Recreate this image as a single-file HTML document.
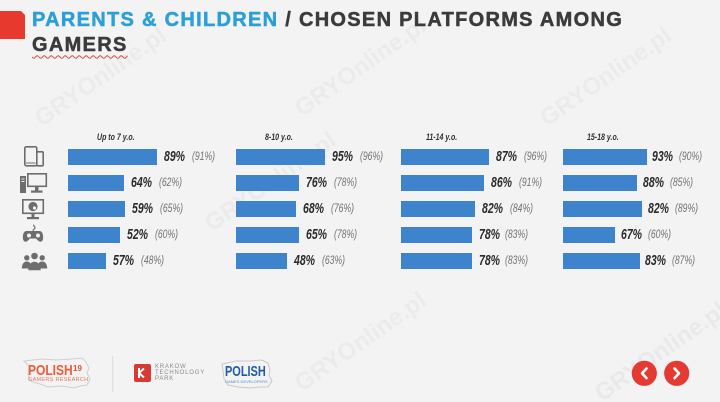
<!DOCTYPE html>
<html><head><meta charset="utf-8">
<style>
*{margin:0;padding:0;box-sizing:border-box}
html,body{width:720px;height:402px;overflow:hidden}
body{background:#f3f3f3;position:relative;font-family:"Liberation Sans",Arial,sans-serif}
.wm{position:absolute;font-weight:bold;font-size:24px;color:rgba(120,120,120,0.06);transform:rotate(-35deg);white-space:nowrap;transform-origin:left top}
.tab{position:absolute;left:0;top:11px;width:25px;height:28px;background:#e8392f;clip-path:polygon(0 0,21px 0,25px 4px,25px 28px,0 28px)}
.title{position:absolute;left:32px;top:8.3px;font-weight:bold;font-size:20px;line-height:25px;letter-spacing:1.3px;color:#3b3b3b;white-space:nowrap;-webkit-text-stroke:0.5px currentColor}
.title .b{color:#2a9fd8}
.title .g{text-decoration:underline wavy #d44;text-decoration-thickness:1px;text-underline-offset:3px}
.hd{position:absolute;top:131px;height:12px;line-height:12px;font-size:9px;font-weight:bold;font-style:italic;color:#2e2e2e;white-space:nowrap;transform:scaleX(0.78);transform-origin:left center}
.bar{position:absolute;height:16px;background:#3e84cc}
.v{position:absolute;height:16px;line-height:16px;font-size:15px;font-weight:bold;font-style:italic;color:#2a2a2a;white-space:nowrap;transform:scaleX(0.7);transform-origin:left center}
.p{position:absolute;height:16px;line-height:15px;font-size:12px;font-style:italic;color:#727272;white-space:nowrap;transform:scaleX(0.72);transform-origin:left center}
.sm{position:absolute;white-space:nowrap}
</style></head><body>

<div class="wm" style="left:30px;top:110px">GRYOnline.pl</div>
<div class="wm" style="left:290px;top:100px">GRYOnline.pl</div>
<div class="wm" style="left:535px;top:110px">GRYOnline.pl</div>
<div class="wm" style="left:200px;top:215px">GRYOnline.pl</div>
<div class="wm" style="left:590px;top:385px;color:rgba(120,120,120,0.08)">GRYOnline.pl</div>
<div class="wm" style="left:290px;top:375px">GRYOnline.pl</div>

<div class="tab"></div>
<div class="title"><span class="b">PARENTS &amp; CHILDREN</span> / CHOSEN PLATFORMS AMONG<br><span class="g">GAMERS</span></div>

<div class="hd" style="left:97px">Up to 7 y.o.</div>
<div class="hd" style="left:265px">8-10 y.o.</div>
<div class="hd" style="left:426px">11-14 y.o.</div>
<div class="hd" style="left:587px">15-18 y.o.</div>

<svg style="position:absolute;left:0;top:0" width="720" height="402" viewBox="0 0 720 402">
<g fill="none" stroke="#6d6d6d" stroke-width="1.6">
 <rect x="24.8" y="146.8" width="12" height="19" rx="1.5"/>
 <rect x="36.8" y="151.8" width="6.4" height="14" rx="1" fill="#f3f3f3"/>
 <rect x="27.8" y="173.8" width="18.5" height="12.5"/>
 <rect x="22.8" y="199.8" width="20.5" height="13.5"/>
</g>
<g fill="#6d6d6d">
 <line x1="26" y1="163" x2="35.5" y2="163" stroke="#6d6d6d" stroke-width="1"/>
 <rect x="20" y="176" width="6" height="17"/>
 <rect x="21.5" y="178.5" width="3" height="1" fill="#f3f3f3"/>
 <rect x="21.5" y="181" width="3" height="1" fill="#f3f3f3"/>
 <rect x="35" y="187" width="3.5" height="4"/>
 <rect x="31" y="190.5" width="11.5" height="2.2"/>
 <circle cx="33" cy="206.5" r="4.6"/>
 <rect x="31.5" y="213.5" width="3" height="3.5"/>
 <rect x="27" y="217" width="12" height="2.2"/>
 <path d="M26.5,231 h13 c3,0 4,4 3.5,8 c-0.5,3 -3,3.5 -5,1.5 l-2,-2 h-6 l-2,2 c-2,2 -4.5,1.5 -5,-1.5 c-0.5,-4 0.5,-8 3.5,-8 z"/>
 <circle cx="34.5" cy="256" r="3.3"/>
 <circle cx="26.8" cy="257.8" r="2.7"/>
 <circle cx="42.2" cy="257.8" r="2.7"/>
 <path d="M21.8,268.5 c0,-4 1.8,-7 5,-7 c2,0 3.2,1 3.8,2.2 l-1.5,4.8 z"/>
 <path d="M47.2,268.5 c0,-4 -1.8,-7 -5,-7 c-2,0 -3.2,1 -3.8,2.2 l1.5,4.8 z"/>
 <path d="M28.3,270.2 c0,-5 2.5,-8.5 6.2,-8.5 s6.2,3.5 6.2,8.5 z"/>
</g>
<circle cx="29" cy="235.5" r="2" fill="#f3f3f3"/>
<circle cx="38" cy="235.5" r="2" fill="#f3f3f3"/>
<circle cx="34.5" cy="208" r="1.6" fill="#f3f3f3"/>
<path d="M33,231 c0,-2 2,-1.8 2,-3.3 s-2,-1.5 -1.2,-3" fill="none" stroke="#6d6d6d" stroke-width="1.2"/>

<path d="M24,361 l18,-2 l14,1 l16,-1 l10,-1 l4,4 l3,6 l-2,5 l3,6 l-3,6 l-7,1 l-6,2 l-12,-2 l-14,1 l-8,-3 l-10,-3 l-2,-7 l1,-8 z" fill="none" stroke="#cfcfcf" stroke-width="1"/>
<line x1="112.7" y1="356" x2="112.7" y2="392" stroke="#dcdcdc" stroke-width="1"/>
<rect x="134" y="364" width="17" height="18" rx="2" fill="#d63a35"/>
<path d="M139,368 v10 M139,373 l5,-4.5 M139,373 l5,4.5" stroke="#fff" stroke-width="2" fill="none"/>
<path d="M222,364 l14,-3 l14,0 l12,-1 l6,3 l2,7 l-1,5 l3,6 l-4,6 l-8,0 l-10,1 l-12,-1 l-10,-2 l-4,-6 l-1,-8 z" fill="none" stroke="#c8c8c8" stroke-width="1"/>
<circle cx="644.3" cy="373.3" r="12.6" fill="#e53a32"/>
<circle cx="676.7" cy="373.3" r="12.6" fill="#e53a32"/>
<path d="M646.5,368.5 l-4.5,4.8 l4.5,4.8" stroke="#fff" stroke-width="2.6" fill="none" stroke-linecap="round" stroke-linejoin="round"/>
<path d="M674.5,368.5 l4.5,4.8 l-4.5,4.8" stroke="#fff" stroke-width="2.6" fill="none" stroke-linecap="round" stroke-linejoin="round"/>
</svg>

<div class="sm" style="left:27.5px;top:362px;font-size:15px;line-height:17px;font-weight:bold;color:#ee5a3a;transform:scaleX(0.8);transform-origin:left top">POLISH</div>
<div class="sm" style="left:73px;top:364px;font-size:8px;line-height:9px;font-weight:bold;color:#e84a3a">19</div>
<div class="sm" style="left:28px;top:377px;font-size:5.5px;line-height:6px;color:#e8765a;letter-spacing:0.3px">GAMERS RESEARCH</div>
<div class="sm" style="left:155px;top:363.5px;font-size:6px;line-height:6.3px;color:#8a8a8a;letter-spacing:0.8px">KRAKOW<br>TECHNOLOGY<br>PARK</div>
<div class="sm" style="left:225px;top:363px;font-size:15px;line-height:17px;font-weight:bold;color:#1f5aa8;transform:scaleX(0.73);transform-origin:left top">POLISH</div>
<div class="sm" style="left:225px;top:379px;font-size:4px;line-height:5px;color:#5a8ac8">GAMES DEVELOPERS</div>

<div class="bar" style="left:68px;top:149px;width:89px"></div>
<div class="bar" style="left:68px;top:175px;width:56px"></div>
<div class="bar" style="left:68px;top:201px;width:57px"></div>
<div class="bar" style="left:68px;top:227px;width:52px"></div>
<div class="bar" style="left:68px;top:253px;width:38px"></div>
<div class="v" style="left:164px;top:149px">89%</div><div class="p" style="left:192px;top:149px">(91%)</div>
<div class="v" style="left:131px;top:175px">64%</div><div class="p" style="left:159px;top:175px">(62%)</div>
<div class="v" style="left:132px;top:201px">59%</div><div class="p" style="left:160px;top:201px">(65%)</div>
<div class="v" style="left:127px;top:227px">52%</div><div class="p" style="left:155px;top:227px">(60%)</div>
<div class="v" style="left:113px;top:253px">57%</div><div class="p" style="left:141px;top:253px">(48%)</div>

<div class="bar" style="left:236px;top:149px;width:89px"></div>
<div class="bar" style="left:236px;top:175px;width:63px"></div>
<div class="bar" style="left:236px;top:201px;width:60px"></div>
<div class="bar" style="left:236px;top:227px;width:63px"></div>
<div class="bar" style="left:236px;top:253px;width:51px"></div>
<div class="v" style="left:332px;top:149px">95%</div><div class="p" style="left:360px;top:149px">(96%)</div>
<div class="v" style="left:306px;top:175px">76%</div><div class="p" style="left:334px;top:175px">(78%)</div>
<div class="v" style="left:303px;top:201px">68%</div><div class="p" style="left:331px;top:201px">(76%)</div>
<div class="v" style="left:306px;top:227px">65%</div><div class="p" style="left:334px;top:227px">(78%)</div>
<div class="v" style="left:294px;top:253px">48%</div><div class="p" style="left:322px;top:253px">(63%)</div>

<div class="bar" style="left:401px;top:149px;width:88px"></div>
<div class="bar" style="left:401px;top:175px;width:83px"></div>
<div class="bar" style="left:401px;top:201px;width:74px"></div>
<div class="bar" style="left:401px;top:227px;width:71px"></div>
<div class="bar" style="left:401px;top:253px;width:71px"></div>
<div class="v" style="left:496px;top:149px">87%</div><div class="p" style="left:524px;top:149px">(96%)</div>
<div class="v" style="left:491px;top:175px">86%</div><div class="p" style="left:519px;top:175px">(91%)</div>
<div class="v" style="left:482px;top:201px">82%</div><div class="p" style="left:510px;top:201px">(84%)</div>
<div class="v" style="left:479px;top:227px">78%</div><div class="p" style="left:505px;top:227px">(83%)</div>
<div class="v" style="left:479px;top:253px">78%</div><div class="p" style="left:505px;top:253px">(83%)</div>

<div class="bar" style="left:563px;top:149px;width:84px"></div>
<div class="bar" style="left:563px;top:175px;width:74px"></div>
<div class="bar" style="left:563px;top:201px;width:79px"></div>
<div class="bar" style="left:563px;top:227px;width:52px"></div>
<div class="bar" style="left:563px;top:253px;width:77px"></div>
<div class="v" style="left:652px;top:149px">93%</div><div class="p" style="left:679px;top:149px">(90%)</div>
<div class="v" style="left:643px;top:175px">88%</div><div class="p" style="left:670px;top:175px">(85%)</div>
<div class="v" style="left:648px;top:201px">82%</div><div class="p" style="left:675px;top:201px">(89%)</div>
<div class="v" style="left:621px;top:227px">67%</div><div class="p" style="left:648px;top:227px">(60%)</div>
<div class="v" style="left:645px;top:253px">83%</div><div class="p" style="left:672px;top:253px">(87%)</div>

</body></html>
